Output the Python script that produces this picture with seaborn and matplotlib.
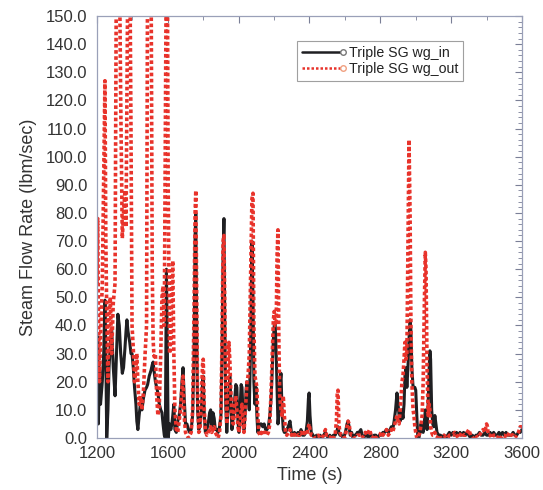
import numpy as np
import pandas as pd
import matplotlib
matplotlib.use("Agg")
import matplotlib.pyplot as plt
import seaborn as sns
from matplotlib.ticker import MultipleLocator, AutoMinorLocator, FormatStrFormatter
from matplotlib.lines import Line2D
from matplotlib.legend_handler import HandlerLine2D

# ---------------- data ----------------
time_s = [
    1200, 1204, 1208, 1214, 1220, 1230, 1238, 1245, 1250, 1255, 1262, 1268, 1275, 1283, 1292, 1302,
    1310, 1318, 1326, 1334, 1343, 1350, 1358, 1364, 1369, 1375, 1385, 1392, 1398, 1405, 1412, 1420,
    1425, 1431, 1438, 1445, 1454, 1462, 1471, 1480, 1486, 1495, 1505, 1512, 1517, 1522, 1530, 1537,
    1544, 1552, 1560, 1567, 1573, 1580, 1586, 1592, 1597, 1602, 1610, 1617, 1623, 1628, 1634, 1640,
    1648, 1656, 1664, 1672, 1680, 1686, 1692, 1700, 1708, 1716, 1724, 1732, 1740, 1748, 1754, 1758,
    1763, 1768, 1775, 1782, 1790, 1796, 1800, 1806, 1812, 1820, 1828, 1836, 1842, 1848, 1855, 1862,
    1868, 1876, 1884, 1892, 1900, 1906, 1912, 1917, 1921, 1927, 1933, 1940, 1945, 1950, 1955, 1962,
    1970, 1978, 1984, 1990, 1996, 2002, 2008, 2014, 2019, 2025, 2030, 2036, 2042, 2047, 2053, 2060,
    2068, 2075, 2081, 2086, 2092, 2098, 2103, 2108, 2114, 2120, 2128, 2136, 2144, 2152, 2160, 2168,
    2176, 2184, 2190, 2196, 2201, 2206, 2212, 2217, 2222, 2227, 2232, 2239, 2245, 2252, 2258, 2265,
    2272, 2280, 2290, 2298, 2306, 2315, 2325, 2335, 2344, 2352, 2360, 2370, 2380, 2388, 2394, 2398,
    2403, 2410, 2420, 2430, 2440, 2450, 2460, 2470, 2480, 2490, 2497, 2505, 2515, 2525, 2535, 2545,
    2552, 2557, 2561, 2566, 2572, 2580, 2590, 2598, 2606, 2612, 2618, 2624, 2630, 2638, 2646, 2654,
    2662, 2670, 2680, 2690, 2698, 2706, 2715, 2724, 2732, 2740, 2748, 2756, 2765, 2775, 2785, 2795,
    2805, 2815, 2825, 2835, 2845, 2855, 2862, 2870, 2878, 2886, 2894, 2900, 2906, 2912, 2918, 2922,
    2928, 2934, 2939, 2945, 2950, 2956, 2962, 2968, 2973, 2978, 2985, 2990, 2995, 3000, 3006, 3012,
    3018, 3024, 3030, 3036, 3042, 3048, 3054, 3058, 3064, 3070, 3076, 3080, 3084, 3090, 3096, 3102,
    3108, 3114, 3120, 3130, 3140, 3150, 3160, 3170, 3180, 3190, 3200, 3210, 3220, 3230, 3240, 3250,
    3260, 3270, 3280, 3290, 3300, 3310, 3320, 3330, 3340, 3350, 3360, 3370, 3380, 3390, 3400, 3405,
    3410, 3420, 3430, 3440, 3450, 3460, 3470, 3480, 3490, 3500, 3510, 3520, 3530, 3540, 3550, 3560,
    3570, 3580, 3590, 3600,
]

wg_in = [
    5, 36, 5, 25, 12, 20, 30, 49, 30, 0, 10, 25, 33, 39, 25, 15,
    30, 44, 40, 30, 23, 25, 32, 38, 42, 38, 34, 30, 30, 25, 18, 12,
    6, 3, 8, 12, 10, 14, 17, 18, 19, 22, 24, 26, 27, 24, 20, 18,
    16, 12, 10, 9, 5, 1, 0, 60, 35, 0, 5, 3, 5, 8, 12, 3,
    2, 6, 8, 12, 20, 25, 15, 5, 5, 3, 2, 3, 8, 30, 72, 80,
    40, 10, 3, 5, 10, 20, 22, 8, 2, 3, 5, 9, 10, 4, 9, 7,
    3, 3, 2, 4, 8, 30, 65, 78, 45, 12, 2, 10, 15, 22, 15, 3,
    8, 14, 19, 18, 6, 2, 10, 19, 18, 8, 3, 8, 17, 20, 15, 10,
    35, 70, 50, 20, 12, 18, 8, 2, 4, 5, 5, 4, 5, 3, 3, 4,
    8, 15, 25, 35, 40, 41, 30, 18, 5, 8, 18, 23, 10, 3, 2, 2,
    3, 4, 6, 2, 1, 2, 1, 2, 1, 3, 1, 1, 2, 6, 14, 16,
    8, 2, 1, 0, 1, 0, 1, 0, 1, 2, 1, 0, 1, 0, 1, 1,
    2, 3, 4, 2, 1, 1, 0, 1, 3, 5, 6, 4, 1, 2, 0, 1,
    1, 2, 2, 3, 1, 0, 1, 1, 0, 1, 1, 0, 1, 1, 0, 1,
    1, 2, 2, 3, 2, 3, 4, 3, 6, 10, 16, 12, 8, 6, 7, 10,
    7, 12, 22, 25, 18, 25, 35, 42, 38, 25, 18, 18, 18, 17, 8, 0,
    0, 2, 5, 3, 2, 5, 10, 8, 3, 12, 25, 31, 28, 10, 5, 4,
    8, 5, 2, 1, 1, 0, 1, 0, 1, 2, 1, 2, 1, 2, 1, 2,
    1, 2, 1, 2, 1, 0, 1, 0, 1, 1, 2, 1, 1, 2, 1, 1,
    1, 2, 1, 2, 1, 1, 2, 1, 2, 1, 2, 1, 1, 1, 2, 1,
    1, 2, 2, 3,
]

wg_out = [
    55, 78, 45, 20, 35, 55, 95, 127, 70, 45, 20, 45, 50, 30, 48, 55,
    175, 175, 175, 120, 71, 80, 88, 75, 120, 175, 175, 110, 40, 32, 20, 25,
    30, 20, 12, 15, 10, 16, 29, 40, 175, 175, 175, 60, 35, 29, 30, 15,
    8, 12, 30, 50, 54, 40, 110, 175, 175, 90, 30, 35, 55, 63, 30, 10,
    3, 2, 6, 10, 18, 22, 8, 2, 1, 0, 1, 2, 10, 45, 80, 88,
    50, 15, 2, 3, 15, 26, 28, 10, 3, 1, 2, 3, 4, 2, 3, 4,
    2, 1, 0, 2, 8, 35, 70, 72, 50, 20, 5, 25, 34, 28, 18, 8,
    5, 12, 15, 10, 4, 2, 5, 10, 12, 5, 2, 8, 14, 20, 22, 30,
    60, 85, 87, 40, 22, 20, 18, 8, 2, 1, 2, 1, 2, 2, 1, 2,
    5, 18, 30, 42, 45, 40, 40, 65, 74, 35, 15, 10, 8, 15, 8, 2,
    1, 2, 3, 1, 2, 1, 2, 1, 1, 2, 1, 2, 1, 2, 4, 5,
    3, 1, 1, 0, 0, 1, 0, 0, 1, 3, 1, 1, 0, 1, 0, 1,
    6, 16, 17, 5, 2, 1, 1, 0, 2, 4, 6, 5, 2, 1, 1, 0,
    0, 1, 1, 1, 0, 1, 2, 1, 2, 3, 1, 0, 1, 0, 1, 1,
    2, 1, 2, 3, 1, 2, 3, 2, 4, 6, 8, 6, 5, 10, 15, 20,
    22, 28, 34, 28, 30, 70, 106, 80, 40, 20, 10, 8, 4, 2, 0, 0,
    1, 2, 5, 8, 20, 45, 66, 60, 25, 8, 12, 10, 4, 2, 1, 1,
    2, 1, 0, 1, 0, 0, 1, 0, 0, 1, 1, 1, 2, 1, 0, 1,
    2, 1, 1, 2, 3, 1, 0, 0, 1, 0, 1, 2, 3, 2, 5, 4,
    1, 1, 0, 1, 1, 0, 1, 0, 1, 1, 0, 1, 2, 1, 1, 0,
    1, 2, 4, 4,
]

series_names = ["Triple SG wg_in", "Triple SG wg_out"]
x_ticks = [1200, 1600, 2000, 2400, 2800, 3200, 3600]

df_in = pd.DataFrame({"t": time_s, "v": wg_in})
df_out = pd.DataFrame({"t": time_s, "v": wg_out})

# ---------------- figure ----------------
sns.set_theme(style="white")
plt.rcParams["font.family"] = ["Liberation Sans", "DejaVu Sans"]

fig = plt.figure(figsize=(5.43, 4.90), dpi=100)
ax = fig.add_axes([0.1786, 0.1061, 0.7827, 0.8612])

black = "#1f1f22"
red = "#e8332b"
red_ls = (0, (1, 0.7))

sns.lineplot(data=df_in, x="t", y="v", ax=ax, color=black, lw=2.2,
             estimator=None, sort=False, legend=False)
sns.lineplot(data=df_out, x="t", y="v", ax=ax, color=red, lw=2.6,
             estimator=None, sort=False, legend=False)
ax.lines[1].set_linestyle(red_ls)

ax.set_xlim(1200, 3600)
ax.set_ylim(0, 150)
ax.set_xticks(x_ticks)
ax.yaxis.set_major_locator(MultipleLocator(10))
ax.yaxis.set_major_formatter(FormatStrFormatter("%.1f"))
ax.yaxis.set_minor_locator(AutoMinorLocator(5))
ax.xaxis.set_minor_locator(AutoMinorLocator(2))

txt = "#333333"
ax.tick_params(which="both", direction="in", top=True, right=True,
               colors="#7a7f96", labelcolor=txt, labelsize=12)
ax.tick_params(which="major", length=5, width=0.8)
ax.tick_params(which="minor", length=3, width=0.6)
ax.tick_params(axis="x", pad=6)
ax.tick_params(axis="y", pad=7)
for s in ax.spines.values():
    s.set_color("#9aa0b8")
    s.set_linewidth(0.9)

ax.set_xlabel("Time (s)", fontsize=13, color=txt, labelpad=4)
ax.set_ylabel("Steam Flow Rate (lbm/sec)", fontsize=13, color=txt, labelpad=6)


class RightMarkerHandler(HandlerLine2D):
    """Legend line with its single marker at the right end."""
    def create_artists(self, legend, orig_handle, xdescent, ydescent,
                       width, height, fontsize, trans):
        arts = super().create_artists(legend, orig_handle, xdescent, ydescent,
                                      width, height, fontsize, trans)
        for a in arts:
            n = len(a.get_xdata())
            if n > 0:
                a.set_markevery([n - 1])
        return arts


h1 = Line2D([], [], color=black, lw=1.8, marker="o", ms=4, mfc="white", mec="#777777")
h2 = Line2D([], [], color=red, lw=1.8, ls=(0, (1, 0.8)), marker="o", ms=4, mfc="white", mec="#f0a080")
leg = ax.legend([h1, h2], series_names, loc="upper left", bbox_to_anchor=(0.455, 0.958),
                frameon=True, fancybox=False, fontsize=10.2, handlelength=2.9,
                handletextpad=0.4, borderpad=0.35, labelspacing=0.15, numpoints=1,
                handler_map={Line2D: RightMarkerHandler(numpoints=1)})
leg.get_frame().set_edgecolor("#888888")
leg.get_frame().set_linewidth(0.8)
for t in leg.get_texts():
    t.set_color("#222222")

fig.savefig("out.png", dpi=100)
